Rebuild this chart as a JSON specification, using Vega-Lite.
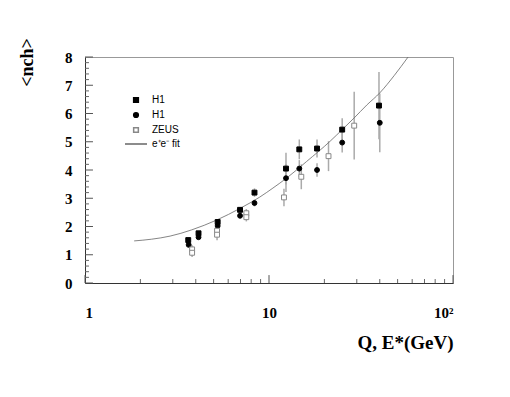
{
  "$schema": "https://vega.github.io/schema/vega-lite/v6.json",
  "width": 368,
  "height": 226,
  "autosize": {"type": "none"},
  "padding": {"left": 85, "top": 57, "right": 57, "bottom": 114},
  "background": "white",
  "config": {"view": {"stroke": "#999", "strokeWidth": 1}, "font": "Liberation Sans"},
  "resolve": {"axis": {"x": "independent", "y": "independent"}},
  "datasets": {
    "xticks": [
      {"v": 1, "kind": "major"}, {"v": 10, "kind": "major"}, {"v": 100, "kind": "major"},
      {"v": 2, "kind": "minor"}, {"v": 3, "kind": "minor"}, {"v": 4, "kind": "minor"}, {"v": 5, "kind": "minor"},
      {"v": 6, "kind": "minor"}, {"v": 7, "kind": "minor"}, {"v": 8, "kind": "minor"}, {"v": 9, "kind": "minor"},
      {"v": 20, "kind": "minor"}, {"v": 30, "kind": "minor"}, {"v": 40, "kind": "minor"}, {"v": 50, "kind": "minor"},
      {"v": 60, "kind": "minor"}, {"v": 70, "kind": "minor"}, {"v": 80, "kind": "minor"}, {"v": 90, "kind": "minor"}
    ],
    "yticks": [
      {"v": 0, "kind": "major"}, {"v": 1, "kind": "major"}, {"v": 2, "kind": "major"}, {"v": 3, "kind": "major"},
      {"v": 4, "kind": "major"}, {"v": 5, "kind": "major"}, {"v": 6, "kind": "major"}, {"v": 7, "kind": "major"}, {"v": 8, "kind": "major"},
      {"v": 0.2, "kind": "minor"}, {"v": 0.4, "kind": "minor"}, {"v": 0.6, "kind": "minor"}, {"v": 0.8, "kind": "minor"},
      {"v": 1.2, "kind": "minor"}, {"v": 1.4, "kind": "minor"}, {"v": 1.6, "kind": "minor"}, {"v": 1.8, "kind": "minor"},
      {"v": 2.2, "kind": "minor"}, {"v": 2.4, "kind": "minor"}, {"v": 2.6, "kind": "minor"}, {"v": 2.8, "kind": "minor"},
      {"v": 3.2, "kind": "minor"}, {"v": 3.4, "kind": "minor"}, {"v": 3.6, "kind": "minor"}, {"v": 3.8, "kind": "minor"},
      {"v": 4.2, "kind": "minor"}, {"v": 4.4, "kind": "minor"}, {"v": 4.6, "kind": "minor"}, {"v": 4.8, "kind": "minor"},
      {"v": 5.2, "kind": "minor"}, {"v": 5.4, "kind": "minor"}, {"v": 5.6, "kind": "minor"}, {"v": 5.8, "kind": "minor"},
      {"v": 6.2, "kind": "minor"}, {"v": 6.4, "kind": "minor"}, {"v": 6.6, "kind": "minor"}, {"v": 6.8, "kind": "minor"},
      {"v": 7.2, "kind": "minor"}, {"v": 7.4, "kind": "minor"}, {"v": 7.6, "kind": "minor"}, {"v": 7.8, "kind": "minor"}
    ],
    "fit": [
      {"series": "fit", "Q": 1.85, "n": 1.49},
      {"series": "fit", "Q": 2.3, "n": 1.55},
      {"series": "fit", "Q": 2.9, "n": 1.66},
      {"series": "fit", "Q": 3.8, "n": 1.88},
      {"series": "fit", "Q": 5.2, "n": 2.23},
      {"series": "fit", "Q": 7.0, "n": 2.65},
      {"series": "fit", "Q": 8.9, "n": 3.04},
      {"series": "fit", "Q": 10.5, "n": 3.36},
      {"series": "fit", "Q": 12.5, "n": 3.72},
      {"series": "fit", "Q": 16, "n": 4.3},
      {"series": "fit", "Q": 21.5, "n": 5.02},
      {"series": "fit", "Q": 25, "n": 5.43},
      {"series": "fit", "Q": 29, "n": 5.84},
      {"series": "fit", "Q": 34, "n": 6.3},
      {"series": "fit", "Q": 40, "n": 6.73},
      {"series": "fit", "Q": 48, "n": 7.35},
      {"series": "fit", "Q": 57, "n": 8.0}
    ],
    "pts": [
      {"series": "H1a", "Q": 3.64, "n": 1.52, "lo": 1.44, "hi": 1.6},
      {"series": "H1a", "Q": 4.14, "n": 1.76, "lo": 1.68, "hi": 1.84},
      {"series": "H1a", "Q": 5.26, "n": 2.16, "lo": 2.08, "hi": 2.24},
      {"series": "H1a", "Q": 6.96, "n": 2.59, "lo": 2.49, "hi": 2.69},
      {"series": "H1a", "Q": 8.34, "n": 3.2, "lo": 3.05, "hi": 3.35},
      {"series": "H1a", "Q": 12.37, "n": 4.05, "lo": 3.49, "hi": 4.61},
      {"series": "H1a", "Q": 14.61, "n": 4.73, "lo": 4.38, "hi": 5.08},
      {"series": "H1a", "Q": 18.24, "n": 4.76, "lo": 4.44, "hi": 5.08},
      {"series": "H1a", "Q": 24.99, "n": 5.43, "lo": 5.03, "hi": 5.83},
      {"series": "H1a", "Q": 39.6, "n": 6.28, "lo": 5.09, "hi": 7.47},
      {"series": "H1b", "Q": 3.66, "n": 1.35, "lo": 1.27, "hi": 1.43},
      {"series": "H1b", "Q": 4.14, "n": 1.62, "lo": 1.54, "hi": 1.7},
      {"series": "H1b", "Q": 5.26, "n": 2.02, "lo": 1.94, "hi": 2.1},
      {"series": "H1b", "Q": 6.96, "n": 2.38, "lo": 2.28, "hi": 2.48},
      {"series": "H1b", "Q": 8.34, "n": 2.83, "lo": 2.71, "hi": 2.95},
      {"series": "H1b", "Q": 12.37, "n": 3.71, "lo": 3.22, "hi": 4.2},
      {"series": "H1b", "Q": 14.61, "n": 4.05, "lo": 3.75, "hi": 4.35},
      {"series": "H1b", "Q": 18.24, "n": 4.0, "lo": 3.76, "hi": 4.24},
      {"series": "H1b", "Q": 24.99, "n": 4.97, "lo": 4.62, "hi": 5.32},
      {"series": "H1b", "Q": 40.0, "n": 5.67, "lo": 4.63, "hi": 6.71},
      {"series": "ZEUS", "Q": 3.82, "n": 1.19, "lo": 1.04, "hi": 1.34},
      {"series": "ZEUS", "Q": 3.82, "n": 1.07, "lo": 0.92, "hi": 1.22},
      {"series": "ZEUS", "Q": 5.22, "n": 1.85, "lo": 1.65, "hi": 2.05},
      {"series": "ZEUS", "Q": 5.22, "n": 1.71, "lo": 1.51, "hi": 1.91},
      {"series": "ZEUS", "Q": 7.53, "n": 2.47, "lo": 2.32, "hi": 2.62},
      {"series": "ZEUS", "Q": 7.53, "n": 2.33, "lo": 2.18, "hi": 2.48},
      {"series": "ZEUS", "Q": 12.06, "n": 3.03, "lo": 2.72, "hi": 3.34},
      {"series": "ZEUS", "Q": 14.98, "n": 3.76, "lo": 3.32, "hi": 4.2},
      {"series": "ZEUS", "Q": 21.06, "n": 4.49, "lo": 3.96, "hi": 5.02},
      {"series": "ZEUS", "Q": 29.04, "n": 5.57, "lo": 4.37, "hi": 6.77}
    ]
  },
  "layer": [
    {
      "data": {"name": "pts"},
      "mark": {"type": "rule", "color": "#aaa", "strokeWidth": 1.5},
      "encoding": {
        "x": {
          "field": "Q", "type": "quantitative",
          "scale": {"type": "log", "domain": [1, 100]},
          "axis": {
            "orient": "bottom",
            "values": [1, 10, 100],
            "labelExpr": "datum.value == 100 ? '10²' : datum.label",
            "labelOverlap": false,
            "labelFont": "Liberation Serif", "labelFontWeight": "bold", "labelFontSize": 15, "labelColor": "black",
            "labelPadding": 22, "ticks": false,
            "domain": true, "domainColor": "#333", "grid": false,
            "title": "Q, E*(GeV)",
            "titleFont": "Liberation Serif", "titleFontWeight": "bold", "titleFontSize": 19, "titleColor": "black",
            "titleAnchor": "end", "titleAlign": "right", "titleBaseline": "middle",
            "titleX": 368, "titleY": 59
          }
        },
        "y": {
          "field": "lo", "type": "quantitative",
          "scale": {"domain": [0, 8]},
          "axis": {
            "orient": "left",
            "values": [0, 1, 2, 3, 4, 5, 6, 7, 8],
            "labelOverlap": false,
            "labelFont": "Liberation Serif", "labelFontWeight": "bold", "labelFontSize": 15, "labelColor": "black",
            "labelPadding": 13, "ticks": false,
            "domain": true, "domainColor": "#333", "grid": false,
            "title": "<nch>",
            "titleFont": "Liberation Serif", "titleFontWeight": "bold", "titleFontSize": 18, "titleColor": "black",
            "titleAngle": -90, "titleAlign": "center", "titleBaseline": "middle",
            "titleX": -58, "titleY": 5
          }
        },
        "y2": {"field": "hi"}
      }
    },
    {
      "data": {"name": "xticks"},
      "transform": [{"filter": "datum.kind == 'major'"}],
      "mark": {"type": "rule", "color": "#555", "strokeWidth": 1},
      "encoding": {
        "x": {"field": "v", "type": "quantitative", "axis": null},
        "y": {"datum": 0, "type": "quantitative", "axis": null},
        "y2": {"datum": 0.28}
      }
    },
    {
      "data": {"name": "xticks"},
      "transform": [{"filter": "datum.kind == 'minor'"}],
      "mark": {"type": "rule", "color": "#666", "strokeWidth": 1},
      "encoding": {
        "x": {"field": "v", "type": "quantitative", "axis": null},
        "y": {"datum": 0, "type": "quantitative", "axis": null},
        "y2": {"datum": 0.14}
      }
    },
    {
      "data": {"name": "yticks"},
      "transform": [{"filter": "datum.kind == 'major'"}],
      "mark": {"type": "rule", "color": "#555", "strokeWidth": 1},
      "encoding": {
        "y": {"field": "v", "type": "quantitative", "axis": null},
        "x": {"datum": 1, "type": "quantitative", "axis": null},
        "x2": {"datum": 1.105}
      }
    },
    {
      "data": {"name": "yticks"},
      "transform": [{"filter": "datum.kind == 'minor'"}],
      "mark": {"type": "rule", "color": "#666", "strokeWidth": 1},
      "encoding": {
        "y": {"field": "v", "type": "quantitative", "axis": null},
        "x": {"datum": 1, "type": "quantitative", "axis": null},
        "x2": {"datum": 1.051}
      }
    },
    {
      "data": {"name": "fit"},
      "mark": {"type": "line", "interpolate": "monotone", "strokeWidth": 0.8},
      "encoding": {
        "x": {"field": "Q", "type": "quantitative", "axis": null},
        "y": {"field": "n", "type": "quantitative", "axis": null},
        "stroke": {
          "field": "series", "type": "nominal",
          "scale": {"domain": ["H1a", "H1b", "ZEUS", "fit"], "range": ["black", "black", "#888", "#666"]},
          "legend": {
            "orient": "none", "legendX": 46, "legendY": 38, "title": null,
            "labelExpr": "datum.label == 'H1a' || datum.label == 'H1b' ? 'H1' : datum.label == 'fit' ? 'e⁺e⁻ fit' : datum.label",
            "labelFont": "Liberation Sans", "labelFontSize": 10, "labelColor": "black",
            "symbolSize": 22, "rowPadding": 3, "labelOffset": 11,
            "encode": {"symbols": {"update": {"size": {"signal": "datum.value == 'fit' ? 484 : 22"}}}}
          }
        }
      }
    },
    {
      "data": {"name": "pts"},
      "mark": {"type": "point", "size": 24, "strokeWidth": 1, "opacity": 1},
      "encoding": {
        "x": {"field": "Q", "type": "quantitative", "axis": null},
        "y": {"field": "n", "type": "quantitative", "axis": null},
        "shape": {
          "field": "series", "type": "nominal",
          "scale": {"domain": ["H1a", "H1b", "ZEUS", "fit"], "range": ["square", "circle", "square", "stroke"]},
          "legend": {
            "orient": "none", "legendX": 46, "legendY": 38, "title": null,
            "labelExpr": "datum.label == 'H1a' || datum.label == 'H1b' ? 'H1' : datum.label == 'fit' ? 'e⁺e⁻ fit' : datum.label",
            "labelFont": "Liberation Sans", "labelFontSize": 10, "labelColor": "black",
            "symbolSize": 22, "rowPadding": 3, "labelOffset": 11,
            "encode": {"symbols": {"update": {"size": {"signal": "datum.value == 'fit' ? 484 : 22"}}}}
          }
        },
        "fill": {
          "field": "series", "type": "nominal",
          "scale": {"domain": ["H1a", "H1b", "ZEUS", "fit"], "range": ["black", "black", "white", "transparent"]},
          "legend": {
            "orient": "none", "legendX": 46, "legendY": 38, "title": null,
            "labelExpr": "datum.label == 'H1a' || datum.label == 'H1b' ? 'H1' : datum.label == 'fit' ? 'e⁺e⁻ fit' : datum.label",
            "labelFont": "Liberation Sans", "labelFontSize": 10, "labelColor": "black",
            "symbolSize": 22, "rowPadding": 3, "labelOffset": 11,
            "encode": {"symbols": {"update": {"size": {"signal": "datum.value == 'fit' ? 484 : 22"}}}}
          }
        },
        "stroke": {"field": "series", "type": "nominal"}
      }
    }
  ]
}
